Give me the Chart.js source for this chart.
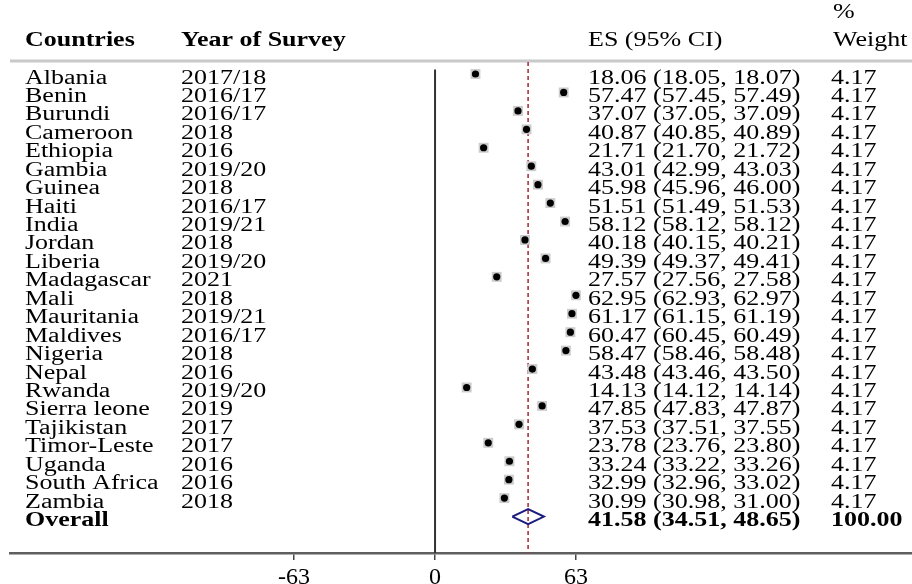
<!DOCTYPE html>
<html><head><meta charset="utf-8">
<script src="https://cdn.jsdelivr.net/npm/chart.js@4"></script>
<style>html,body{margin:0;padding:0;background:#fff;overflow:hidden}canvas{display:block}</style>
</head><body>
<canvas id="c" width="912" height="584"></canvas>
<script>
const countries = ["Albania","Benin","Burundi","Cameroon","Ethiopia","Gambia","Guinea","Haiti","India","Jordan","Liberia","Madagascar","Mali","Mauritania","Maldives","Nigeria","Nepal","Rwanda","Sierra leone","Tajikistan","Timor-Leste","Uganda","South Africa","Zambia"];
const years = ["2017/18","2016/17","2016/17","2018","2016","2019/20","2018","2016/17","2019/21","2018","2019/20","2021","2018","2019/21","2016/17","2018","2016","2019/20","2019","2017","2017","2016","2016","2018"];
const es    = [18.06,57.47,37.07,40.87,21.71,43.01,45.98,51.51,58.12,40.18,49.39,27.57,62.95,61.17,60.47,58.47,43.48,14.13,47.85,37.53,23.78,33.24,32.99,30.99];
const lower = [18.05,57.45,37.05,40.85,21.70,42.99,45.96,51.49,58.12,40.15,49.37,27.56,62.93,61.15,60.45,58.46,43.46,14.12,47.83,37.51,23.76,33.22,32.96,30.98];
const upper = [18.07,57.49,37.09,40.89,21.72,43.03,46.00,51.53,58.12,40.21,49.41,27.58,62.97,61.19,60.49,58.48,43.50,14.14,47.87,37.55,23.80,33.26,33.02,31.00];
const weights = [4.17,4.17,4.17,4.17,4.17,4.17,4.17,4.17,4.17,4.17,4.17,4.17,4.17,4.17,4.17,4.17,4.17,4.17,4.17,4.17,4.17,4.17,4.17,4.17];
const overallLabel = "Overall";
const overallES = 41.58, overallLower = 34.51, overallUpper = 48.65, overallWeight = 100.00;
const xTicks = [-63, 0, 63];
const headerCountries = "Countries", headerYear = "Year of Survey", headerES = "ES (95% CI)", headerPct = "%", headerWeight = "Weight";

const nRows = countries.length;          // overall row index = nRows
const yMin = -0.651, yMax = 25.976;
const xMin = -189.9, xMax = 213.1;
const SX = 1.3;
const FONT = '"Liberation Serif", "Times New Roman", serif';

function txt(ctx, s, x, y, bold) {
  ctx.save();
  ctx.font = (bold ? 'bold ' : '') + '20px ' + FONT;
  ctx.fillStyle = '#000';
  ctx.textBaseline = 'alphabetic';
  ctx.textAlign = 'left';
  ctx.translate(x, y);
  ctx.scale(SX, 1);
  ctx.fillText(s, 0, 0);
  ctx.restore();
}
const f2 = v => v.toFixed(2);

const tablePlugin = {
  id: 'table',
  beforeDatasetsDraw(chart) {
    const ctx = chart.ctx, a = chart.chartArea;
    ctx.save();
    ctx.strokeStyle = '#c9c9c9';
    ctx.lineWidth = 3;
    ctx.beginPath();
    ctx.moveTo(a.left, 61); ctx.lineTo(chart.width, 61);
    ctx.stroke();
    ctx.restore();
  },
  afterDraw(chart) {
    const ctx = chart.ctx, ys = chart.scales.y;
    txt(ctx, headerCountries, 25, 46, true);
    txt(ctx, headerYear, 181, 46, true);
    txt(ctx, headerES, 588, 46, false);
    txt(ctx, headerPct, 833, 18, false);
    txt(ctx, headerWeight, 833, 46, false);
    for (let i = 0; i < nRows; i++) {
      const y = ys.getPixelForValue(i) + 9.5;
      txt(ctx, countries[i], 25, y, false);
      txt(ctx, years[i], 181, y, false);
      txt(ctx, f2(es[i]) + ' (' + f2(lower[i]) + ', ' + f2(upper[i]) + ')', 588, y, false);
      txt(ctx, f2(weights[i]), 831, y, false);
    }
    const yo = ys.getPixelForValue(nRows) + 9.5;
    txt(ctx, overallLabel, 25, yo, true);
    txt(ctx, f2(overallES) + ' (' + f2(overallLower) + ', ' + f2(overallUpper) + ')', 588, yo, true);
    txt(ctx, f2(overallWeight), 831, yo, true);
  }
};

const dh = 0.41;
new Chart(document.getElementById('c'), {
  type: 'scatter',
  data: {
    datasets: [
      { label: 'es', order: 1, data: es.map((v, i) => ({x: v, y: i})), pointStyle: 'circle', pointRadius: 3.6, backgroundColor: '#000', borderWidth: 0 },
      { label: 'box', order: 2, data: es.map((v, i) => ({x: v, y: i})), pointStyle: 'rect', pointRadius: 7, backgroundColor: '#cccccc', borderWidth: 0 },
      { label: 'diamond', order: 0, showLine: true, tension: 0, fill: false, pointRadius: 0, borderColor: '#1c1c80', borderWidth: 2,
        data: [{x: overallLower, y: nRows}, {x: overallES, y: nRows - dh}, {x: overallUpper, y: nRows}, {x: overallES, y: nRows + dh}, {x: overallLower, y: nRows}] },
      { label: 'ref', order: 3, showLine: true, pointRadius: 0, borderColor: '#b5303f', borderWidth: 1.6, borderDash: [4, 3],
        data: [{x: overallES, y: yMin}, {x: overallES, y: yMax}] },
      { label: 'zero', order: 4, showLine: true, pointRadius: 0, borderColor: '#333', borderWidth: 2,
        data: [{x: 0, y: -0.25}, {x: 0, y: yMax}] }
    ]
  },
  options: {
    responsive: false,
    animation: false,
    devicePixelRatio: 1,
    layout: { autoPadding: false, padding: { top: 62, left: 10, right: 0, bottom: 0 } },
    plugins: { legend: { display: false }, tooltip: { enabled: false } },
    scales: {
      x: {
        type: 'linear', min: xMin, max: xMax,
        afterBuildTicks: s => { s.ticks = xTicks.map(v => ({value: v})); },
        afterFit: s => { s.height = 31; },
        grid: { display: true, drawOnChartArea: false, drawTicks: true, tickLength: 7, color: '#444', lineWidth: 1.5 },
        border: { display: true, color: '#5e5e5e', width: 2.5 },
        ticks: { padding: 3, color: '#000', font: { family: FONT, size: 24 }, maxRotation: 0, autoSkip: false }
      },
      y: { type: 'linear', reverse: true, min: yMin, max: yMax, display: false }
    }
  },
  plugins: [tablePlugin]
});
</script>
</body></html>
